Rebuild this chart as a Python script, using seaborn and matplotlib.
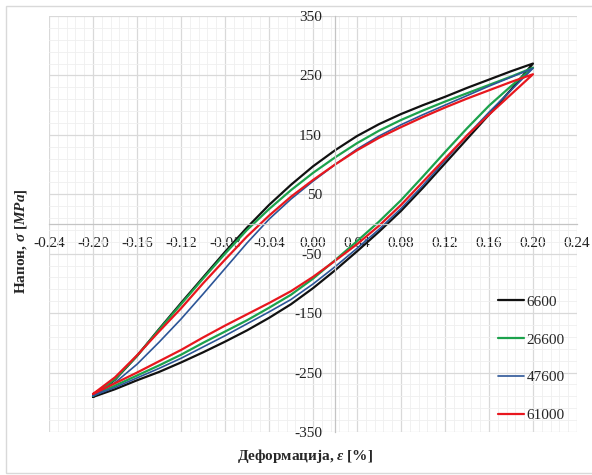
import numpy as np
import pandas as pd
import matplotlib
matplotlib.use('Agg')
import matplotlib.pyplot as plt
import seaborn as sns
from matplotlib.patches import Rectangle

# strain [%] for the loading branch (up) and unloading branch (down)
strain_up = [-0.20, -0.18, -0.16, -0.14, -0.12, -0.10, -0.08, -0.06, -0.04, -0.02, 0.00,
             0.02, 0.04, 0.06, 0.08, 0.10, 0.12, 0.14, 0.16, 0.18, 0.20]
strain_down = strain_up[::-1]

cycles = ['6600', '26600', '47600', '61000']
colors = ['#111111', '#1ca24c', '#2c5597', '#e8171e']
widths = [1.6, 1.6, 1.2, 1.6]

# stress [MPa]
up_6600 = [-291, -262, -222, -177, -133, -90, -47, -6, 32, 66, 97, 124, 148, 168, 185, 200, 214, 229, 243, 257, 270]
down_6600 = [270, 226, 184, 143, 102, 61, 22, -13, -46, -78, -108, -135, -158, -179, -198, -216, -233, -249, -263, -278, -291]

up_26600 = [-289, -261, -222, -178, -135, -92, -50, -10, 25, 57, 86, 112, 136, 157, 175, 191, 206, 220, 234, 248, 263]
down_26600 = [263, 232, 199, 161, 121, 80, 40, 4, -29, -61, -92, -119, -141, -162, -181, -200, -220, -238, -255, -272, -289]

up_47600 = [-289, -267, -236, -199, -160, -118, -75, -32, 8, 42, 72, 100, 126, 148, 167, 184, 200, 216, 232, 247, 262]
down_47600 = [262, 225, 188, 149, 107, 65, 26, -9, -41, -72, -101, -127, -148, -168, -188, -207, -226, -243, -259, -275, -289]

up_61000 = [-286, -258, -221, -181, -142, -100, -60, -21, 14, 46, 74, 100, 124, 145, 163, 180, 196, 211, 225, 239, 252]
down_61000 = [252, 218, 184, 149, 110, 71, 32, -3, -34, -62, -89, -113, -133, -152, -171, -191, -212, -231, -250, -268, -286]

loops = [(up_6600, down_6600), (up_26600, down_26600),
         (up_47600, down_47600), (up_61000, down_61000)]

x_ticks = [-0.24, -0.20, -0.16, -0.12, -0.08, -0.04, 0.00, 0.04, 0.08, 0.12, 0.16, 0.20, 0.24]
y_ticks = [-350, -250, -150, -50, 50, 150, 250, 350]

sns.set_style('white')
plt.rcParams['font.family'] = ['Liberation Serif', 'DejaVu Serif']
plt.rcParams['mathtext.fontset'] = 'custom'
plt.rcParams['mathtext.it'] = 'Liberation Serif:italic:bold'
plt.rcParams['mathtext.rm'] = 'Liberation Serif:bold'
plt.rcParams['axes.unicode_minus'] = False

fig = plt.figure(figsize=(5.92, 4.75), dpi=100)
ax = fig.add_axes([49/592, 1-432/475, 528/592, 416/475])

for name, c, lw, (up, down) in zip(cycles, colors, widths, loops):
    df = pd.DataFrame({'strain': strain_up + strain_down, 'stress': up + down})
    sns.lineplot(data=df, x='strain', y='stress', sort=False, estimator=None,
                 color=c, lw=lw, label=name, ax=ax)

ax.set_xlim(-0.24, 0.24)
ax.set_ylim(-350, 350)
ax.set_xticks(x_ticks)
ax.set_xticklabels(['%.2f' % (round(v, 2) + 0.0) for v in x_ticks])
ax.set_yticks(y_ticks)
ax.set_xticks(np.arange(-0.24, 0.2401, 0.008), minor=True)
ax.set_yticks(np.arange(-350, 351, 20), minor=True)

ax.grid(which='major', color='#d9d9d9', lw=0.9)
ax.grid(which='minor', color='#efefef', lw=0.6)
ax.set_axisbelow(True)

for s in ['top', 'right']:
    ax.spines[s].set_visible(False)
ax.spines['left'].set_position(('data', 0.02))
ax.spines['bottom'].set_position(('data', 0))
for s in ['left', 'bottom']:
    ax.spines[s].set_color('#c4c4c4')
    ax.spines[s].set_linewidth(0.9)

ax.tick_params(which='both', length=0, pad=9.4, labelsize=11, colors='#222222')

ax.set_xlabel('Деформација, $\\varepsilon$ [%]', fontsize=11, fontweight='bold')
ax.xaxis.set_label_coords(0.485, -0.036)
ax.set_ylabel('Напон, $\\sigma$ $[MPa]$', fontsize=11, fontweight='bold')
ax.yaxis.set_label_coords(-0.038, 0.46)

ax.legend(loc='upper left', bbox_to_anchor=(498/592, 1-295/475), bbox_transform=fig.transFigure,
          frameon=False, fontsize=11, handlelength=1.7, handletextpad=0.15,
          labelspacing=1.58, borderpad=0, borderaxespad=0)

fig.patches.append(Rectangle((6/592, 2/475), 590/592, 467/475, transform=fig.transFigure,
                             fill=False, ec='#d9d9d9', lw=1))

fig.savefig('out.png', dpi=100)
